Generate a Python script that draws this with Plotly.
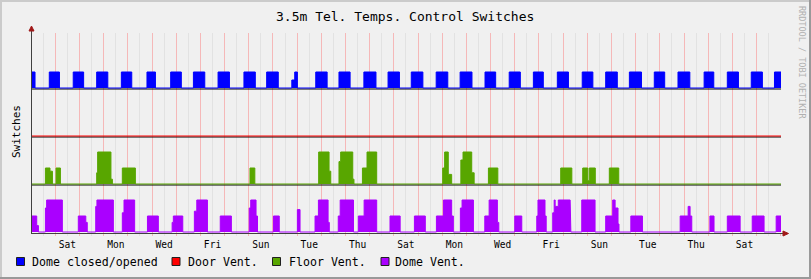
import plotly.graph_objects as go

# ---------------- data (x in days; day 0 = first Saturday 00:00) ----------------
X_START, X_END = -1.0, 30.02
LABEL_DAYS = [0, 2, 4, 6, 8, 10, 12, 14, 16, 18, 20, 22, 24, 26, 28]
LABELS = ["Sat", "Mon", "Wed", "Fri", "Sun", "Tue", "Thu", "Sat",
          "Mon", "Wed", "Fri", "Sun", "Tue", "Thu", "Sat"]

SERIES_NAMES = ["Dome closed/opened", "Door Vent.", "Floor Vent.", "Dome Vent."]
SERIES_COLORS = ["#0000FF", "#FF0000", "#58A600", "#AA00FF"]
SERIES_OFFSETS = [9, 6, 3, 0]

# each pulse: [x0, level0, x1, level1, ..., x_end]
DOME_OPEN = [
    [-1.0, 1, -0.84], [-0.25, 1, 0.17], [0.74, 1, 1.17], [1.71, 1, 2.17],
    [2.73, 1, 3.16], [3.79, 1, 4.14], [4.77, 1, 5.21], [5.71, 1, 6.18],
    [6.73, 1, 7.20], [7.80, 1, 8.27], [8.74, 1, 9.22], [9.78, 0.5, 9.90, 1, 10.01],
    [10.77, 1, 11.24], [11.73, 1, 12.19], [12.76, 1, 13.26], [13.76, 1, 14.23],
    [14.72, 1, 15.20], [15.75, 1, 16.23], [16.74, 1, 17.23], [17.77, 1, 18.21],
    [18.77, 1, 19.23], [19.77, 1, 20.18], [20.76, 1, 21.22], [21.79, 1, 22.23],
    [22.76, 1, 23.24], [23.74, 1, 24.24], [24.77, 1, 25.20], [25.75, 1, 26.24],
    [26.83, 1, 27.23], [27.79, 1, 28.25], [28.78, 1, 29.24], [29.74, 1, 30.02],
]
DOOR_VENT = []
FLOOR_VENT = [
    [-0.41, 1, -0.22, 0.8, -0.12], [0.03, 1, 0.21],
    [1.71, 0.7, 1.75, 2, 2.30, 0.3, 2.36], [2.77, 1, 3.31], [8.05, 1, 8.25],
    [10.89, 2, 11.32, 0.8, 11.39], [11.73, 1.4, 11.80, 2, 12.30, 0.3, 12.35],
    [12.70, 1, 12.89, 2, 13.29], [16.02, 1, 16.10, 2, 16.25, 0.6, 16.39],
    [16.77, 1.5, 16.86, 2, 17.22, 0.7, 17.32], [17.91, 1, 18.30],
    [20.90, 1, 21.36], [21.81, 1, 22.02, 0.2, 22.08, 1, 22.33], [22.91, 1, 23.30],
]
DOME_VENT = [
    [-1.0, 1, -0.77, 0.4, -0.70], [-0.41, 1.5, -0.36, 2, 0.29],
    [0.95, 1, 1.26, 0.6, 1.32], [1.67, 1.6, 1.72, 2, 2.40],
    [2.77, 1.2, 2.84, 2, 3.28], [3.81, 1, 4.26], [4.83, 0.6, 4.88, 1, 5.27],
    [5.75, 1.3, 5.85, 2, 6.29], [6.82, 1, 7.28], [8.02, 1.5, 8.08, 2, 8.30, 1, 8.36],
    [9.02, 1, 9.26], [10.01, 1.4, 10.12], [10.74, 1, 10.88, 2, 11.28, 0.6, 11.33],
    [11.70, 1, 11.78, 2, 12.33], [12.53, 1, 12.77, 2, 13.29], [13.84, 1, 14.26],
    [14.85, 1, 15.30], [15.76, 1, 16.05, 2, 16.39, 1, 16.46],
    [16.75, 1.5, 16.82, 2, 17.29], [17.76, 1, 17.94, 2, 18.28, 0.6, 18.34],
    [19.00, 1, 19.29], [19.91, 1, 19.96, 2, 20.25, 1, 20.30],
    [20.57, 1.2, 20.63, 2, 20.67, 1.6, 20.80, 2, 21.29, 0.5, 21.32],
    [21.77, 2, 22.32], [22.76, 1, 23.05, 2, 23.15, 1.5, 23.27, 0.5, 23.31],
    [23.80, 1, 24.28], [25.84, 1, 26.17, 1.6, 26.25, 1, 26.32],
    [27.07, 1, 27.24], [27.79, 1, 28.32], [28.82, 1, 29.31], [29.81, 1, 30.02],
]
SERIES_PULSES = [DOME_OPEN, DOOR_VENT, FLOOR_VENT, DOME_VENT]
Y_MAX = 12.5

# ---------------- layout geometry ----------------
W, H = 811, 279
L, R, T, B = 32, 30, 33, 46
PW, PH = W - L - R, H - T - B
X_RANGE = [-0.965, 30.01]
FONT = "DejaVu Sans Mono"


def px(x):
    return (x - L) / PW


def py(y):
    return (H - B - y) / PH


def build(pulses, off):
    xs, ys = [X_START], [off]
    for p in pulses:
        prev = 0
        for i in range(0, len(p) - 1, 2):
            xs += [p[i], p[i]]
            ys += [off + prev, off + p[i + 1]]
            prev = p[i + 1]
        xs += [p[-1], p[-1]]
        ys += [off + prev, off]
    xs.append(X_END)
    ys.append(off)
    return xs, ys


fig = go.Figure()

# black baselines
for off in SERIES_OFFSETS:
    if off == 0:
        continue
    fig.add_trace(go.Scatter(x=[X_START, X_END], y=[off, off], mode="lines",
                             line=dict(color="black", width=1), hoverinfo="skip",
                             showlegend=False, xaxis="x", yaxis="y"))

# series (on a 1px-shifted overlay axis)
for name, col, off, pulses in zip(SERIES_NAMES, SERIES_COLORS, SERIES_OFFSETS, SERIES_PULSES):
    xs, ys = build(pulses, off)
    fig.add_trace(go.Scatter(x=xs, y=ys, mode="lines", name=name,
                             line=dict(color=col, width=1), fill="toself",
                             fillcolor=col, showlegend=False,
                             xaxis="x2", yaxis="y2"))

shift = 1.0 / (PH / Y_MAX)

shapes = []
# outer shade border
shapes.append(dict(type="rect", xref="paper", yref="paper", x0=px(0), x1=px(W), y0=py(H), y1=py(0),
                   line=dict(width=0), fillcolor="#F0F0F0", layer="below"))
shapes.append(dict(type="line", xref="paper", yref="paper", x0=px(0), x1=px(W), y0=py(1), y1=py(1),
                   line=dict(color="#CBCBCB", width=2)))
shapes.append(dict(type="line", xref="paper", yref="paper", x0=px(1), x1=px(1), y0=py(0), y1=py(H),
                   line=dict(color="#CBCBCB", width=2)))
shapes.append(dict(type="line", xref="paper", yref="paper", x0=px(0), x1=px(W), y0=py(H - 1), y1=py(H - 1),
                   line=dict(color="#999999", width=2)))
shapes.append(dict(type="line", xref="paper", yref="paper", x0=px(W - 1), x1=px(W - 1), y0=py(0), y1=py(H),
                   line=dict(color="#999999", width=2)))
# axis extensions and arrows
shapes.append(dict(type="line", xref="paper", yref="paper", x0=px(781), x1=px(785), y0=py(233.5), y1=py(233.5),
                   line=dict(color="#404040", width=1)))
shapes.append(dict(type="path", xref="paper", yref="paper",
                   path=f"M {px(783)} {py(231)} L {px(788.5)} {py(233.5)} L {px(783)} {py(236)} Z",
                   fillcolor="#A01818", line=dict(color="#A01818", width=1)))
shapes.append(dict(type="line", xref="paper", yref="paper", x0=px(31.5), x1=px(31.5), y0=py(33), y1=py(29),
                   line=dict(color="#404040", width=1)))
shapes.append(dict(type="path", xref="paper", yref="paper",
                   path=f"M {px(29)} {py(31)} L {px(31.5)} {py(26)} L {px(34)} {py(31)} Z",
                   fillcolor="#A01818", line=dict(color="#A01818", width=1)))

annotations = [
    dict(text="3.5m Tel. Temps. Control Switches", x=px(405), y=py(16), xref="paper", yref="paper",
         showarrow=False, xanchor="center", yanchor="middle", font=dict(family=FONT, size=13, color="black")),
    dict(text="Switches", x=px(16), y=py(132), xref="paper", yref="paper", textangle=-90,
         showarrow=False, xanchor="center", yanchor="middle", font=dict(family=FONT, size=11, color="black")),
    dict(text="RRDTOOL / TOBI OETIKER", x=px(802), y=py(63), xref="paper", yref="paper", textangle=90,
         showarrow=False, xanchor="center", yanchor="middle", font=dict(family=FONT, size=8.5, color="#B0B0B0")),
]

# manual legend
legend_sq = [16.5, 172, 272.5, 381]
legend_tx = [30, 186, 286.5, 393]
for name, col, sx, tx in zip(SERIES_NAMES, SERIES_COLORS, legend_sq, legend_tx):
    shapes.append(dict(type="rect", xref="paper", yref="paper", x0=px(sx), x1=px(sx + 8),
                       y0=py(265.5), y1=py(257.5), fillcolor=col, line=dict(color="#202020", width=1)))
    annotations.append(dict(text=name, x=px(tx), y=py(261.5), xref="paper", yref="paper", showarrow=False,
                            xanchor="left", yanchor="middle",
                            font=dict(family=FONT, size=11.6, color="black")))

fig.update_layout(
    width=W, height=H, autosize=False,
    margin=dict(l=L, r=R, t=T, b=B, pad=0),
    paper_bgcolor="#F0F0F0", plot_bgcolor="#FFFFFF",
    showlegend=False,
    xaxis=dict(range=X_RANGE, showgrid=True, gridcolor="#F5B8B8", gridwidth=1, dtick=1, tick0=0,
               showticklabels=False, ticks="outside", ticklen=2, tickcolor="#F5B8B8",
               minor=dict(dtick=0.5, tick0=0, showgrid=True, gridcolor="#E2E2E2", gridwidth=1,
                          ticks="outside", ticklen=2, tickcolor="#E2E2E2"),
               zeroline=False, showline=True, linecolor="#404040", linewidth=1, fixedrange=True),
    yaxis=dict(range=[0, Y_MAX], showgrid=False, zeroline=False, showticklabels=False, ticks="",
               showline=True, linecolor="#404040", linewidth=1, fixedrange=True),
    xaxis2=dict(range=X_RANGE, overlaying="x", anchor="y2", side="bottom", showgrid=False, zeroline=False,
                tickmode="array", tickvals=[d + 0.5 for d in LABEL_DAYS], ticktext=LABELS,
                ticks="", showline=False, tickfont=dict(family=FONT, size=9.6, color="black"),
                ticklabelstandoff=4, fixedrange=True),
    yaxis2=dict(range=[-shift, Y_MAX - shift], overlaying="y", anchor="x2", visible=False, fixedrange=True),
    shapes=shapes, annotations=annotations,
)

fig.write_html("out.html")
